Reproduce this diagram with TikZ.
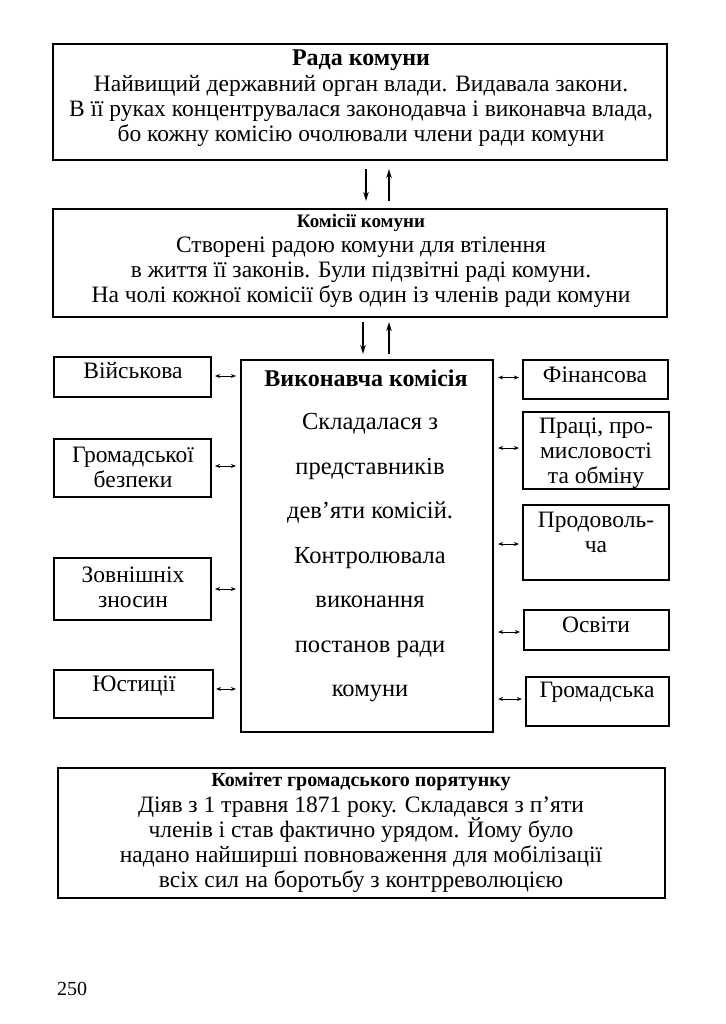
\documentclass[tikz,border=0pt]{standalone}
\usepackage{fontspec}
\setmainfont{Liberation Serif}
\usetikzlibrary{arrows.meta}
\tikzset{
 frame/.style={draw, line width=2.2pt, inner sep=0pt},
 txt/.style={font=\fontsize{23.5}{25}\selectfont, align=center, inner sep=0pt},
 bigttl/.style={font=\fontsize{24}{26}\selectfont\bfseries, inner sep=0pt},
 smttl/.style={font=\fontsize{19}{22}\selectfont\bfseries, inner sep=0pt},
 dbl/.style={{Stealth[length=5pt,width=4pt]}-{Stealth[length=5pt,width=4pt]}, line width=1pt},
 vert/.style={-{Stealth[length=9pt,width=5.5pt]}, line width=1.3pt},
}
\begin{document}
\begin{tikzpicture}[x=1pt,y=-1pt]
\useasboundingbox (0,0) rectangle (725,1024);
% top box
\node[frame, minimum width=614pt, minimum height=116pt] (rada) at (360,102) {};
\node[bigttl] (radat) at (361,60) {Рада комуни};
\node[txt] (radax) at (361,111) {Найвищий державний орган влади. Видавала закони.\\В її руках концентрувалася законодавча і виконавча влада,\\бо кожну комісію очолювали члени ради комуни};
% commissions box
\node[frame, minimum width=614pt, minimum height=108pt] (kom) at (360,263) {};
\node[smttl] (komt) at (361,223) {Комісії комуни};
\node[txt] (komx) at (361,272) {Створені радою комуни для втілення\\в життя її законів. Були підзвітні раді комуни.\\На чолі кожної комісії був один із членів ради комуни};
% arrows
\draw[vert, shorten <=8pt, shorten >=7pt] ([xshift=6pt]rada.south) -- ([xshift=6pt]kom.north);
\draw[vert, shorten <=7pt, shorten >=8pt] ([xshift=29pt]kom.north) -- ([xshift=29pt]rada.south);
% executive commission
\node[frame, minimum width=252pt, minimum height=372pt] (vk) at (367,546) {};
\node[bigttl] (vkt) at (366,378) {Виконавча комісія};
\node[font=\fontsize{24.5}{44.5}\selectfont, align=center, inner sep=0pt] (vkx) at (370,558) {Складалася з\\представників\\дев’яти комісій.\\Контролювала\\виконання\\постанов ради\\комуни};
\coordinate (kd) at ([xshift=-4pt]vk.north |- kom.south);
\coordinate (ku) at ([xshift=22pt]vk.north |- kom.south);
\draw[vert, shorten <=4pt, shorten >=5pt] (kd) -- ([xshift=-4pt]vk.north);
\draw[vert, shorten <=5pt, shorten >=4pt] ([xshift=22pt]vk.north) -- (ku);
% left boxes
\node[frame, minimum width=157pt, minimum height=40pt] (vijs) at (132.5,377) {};
\node[txt] (vijst) at (133,371) {Військова};
\node[frame, minimum width=157pt, minimum height=58pt] (bezp) at (132.5,468) {};
\node[txt] (bezpt) at (133,467) {Громадської\\безпеки};
\node[frame, minimum width=157pt, minimum height=62pt] (zovn) at (132.5,589) {};
\node[txt] (zovnt) at (133,587) {Зовнішніх\\зносин};
\node[frame, minimum width=159pt, minimum height=48pt] (just) at (133.5,694) {};
\node[txt] (justt) at (134,686) {Юстиції};
% right boxes
\node[frame, minimum width=145pt, minimum height=39pt] (fin) at (595.5,379.5) {};
\node[txt] (fint) at (595,375) {Фінансова};
\node[frame, minimum width=146pt, minimum height=77pt] (prac) at (596,450.5) {};
\node[txt] (pract) at (596,453) {Праці, про-\\мисловості\\та обміну};
\node[frame, minimum width=146pt, minimum height=75pt] (prod) at (596,542.5) {};
\node[txt] (prodt) at (596,532) {Продоволь-\\ча};
\node[frame, minimum width=145pt, minimum height=40pt] (osv) at (596.5,630) {};
\node[txt] (osvt) at (596,625) {Освіти};
\node[frame, minimum width=143pt, minimum height=49pt] (grom) at (597.5,701.5) {};
\node[txt] (gromt) at (597,692) {Громадська};
% side arrows
\coordinate (vjA) at ([yshift=1pt]vijs.east);
\coordinate (bzA) at ([yshift=2pt]bezp.east);
\coordinate (jsA) at ([yshift=5pt]just.east);
\coordinate (fnA) at ([yshift=2pt]fin.west);
\coordinate (prA) at ([yshift=2.5pt]prac.west);
\coordinate (pdA) at ([yshift=-1.5pt]prod.west);
\coordinate (osA) at ([yshift=-2pt]osv.west);
\coordinate (grA) at ([yshift=2.5pt]grom.west);
\draw[dbl, shorten <=3pt, shorten >=4pt] (vjA) -- (vk.west |- vjA);
\draw[dbl, shorten <=3pt, shorten >=4pt] (bzA) -- (vk.west |- bzA);
\draw[dbl, shorten <=3pt, shorten >=4pt] (zovn.east) -- (vk.west |- zovn.east);
\draw[dbl, shorten <=2pt, shorten >=4pt] (jsA) -- (vk.west |- jsA);
\draw[dbl, shorten <=4pt, shorten >=3pt] (vk.east |- fnA) -- (fnA);
\draw[dbl, shorten <=4pt, shorten >=3pt] (vk.east |- prA) -- (prA);
\draw[dbl, shorten <=4pt, shorten >=3pt] (vk.east |- pdA) -- (pdA);
\draw[dbl, shorten <=4pt, shorten >=3pt] (vk.east |- osA) -- (osA);
\draw[dbl, shorten <=4pt, shorten >=3pt] (vk.east |- grA) -- (grA);
% bottom box
\node[frame, minimum width=607pt, minimum height=130pt] (kgp) at (361.5,833) {};
\node[smttl, font=\fontsize{20}{22}\selectfont\bfseries] (kgpt) at (361,782) {Комітет громадського порятунку};
\node[txt] (kgpx) at (361,845) {Діяв з 1 травня 1871 року. Складався з п’яти\\членів і став фактично урядом. Йому було\\надано найширші повноваження для мобілізації\\всіх сил на боротьбу з контрреволюцією};
\node[font=\fontsize{20}{22}\selectfont, inner sep=0pt] (page) at (72,989) {250};
\end{tikzpicture}
\end{document}
